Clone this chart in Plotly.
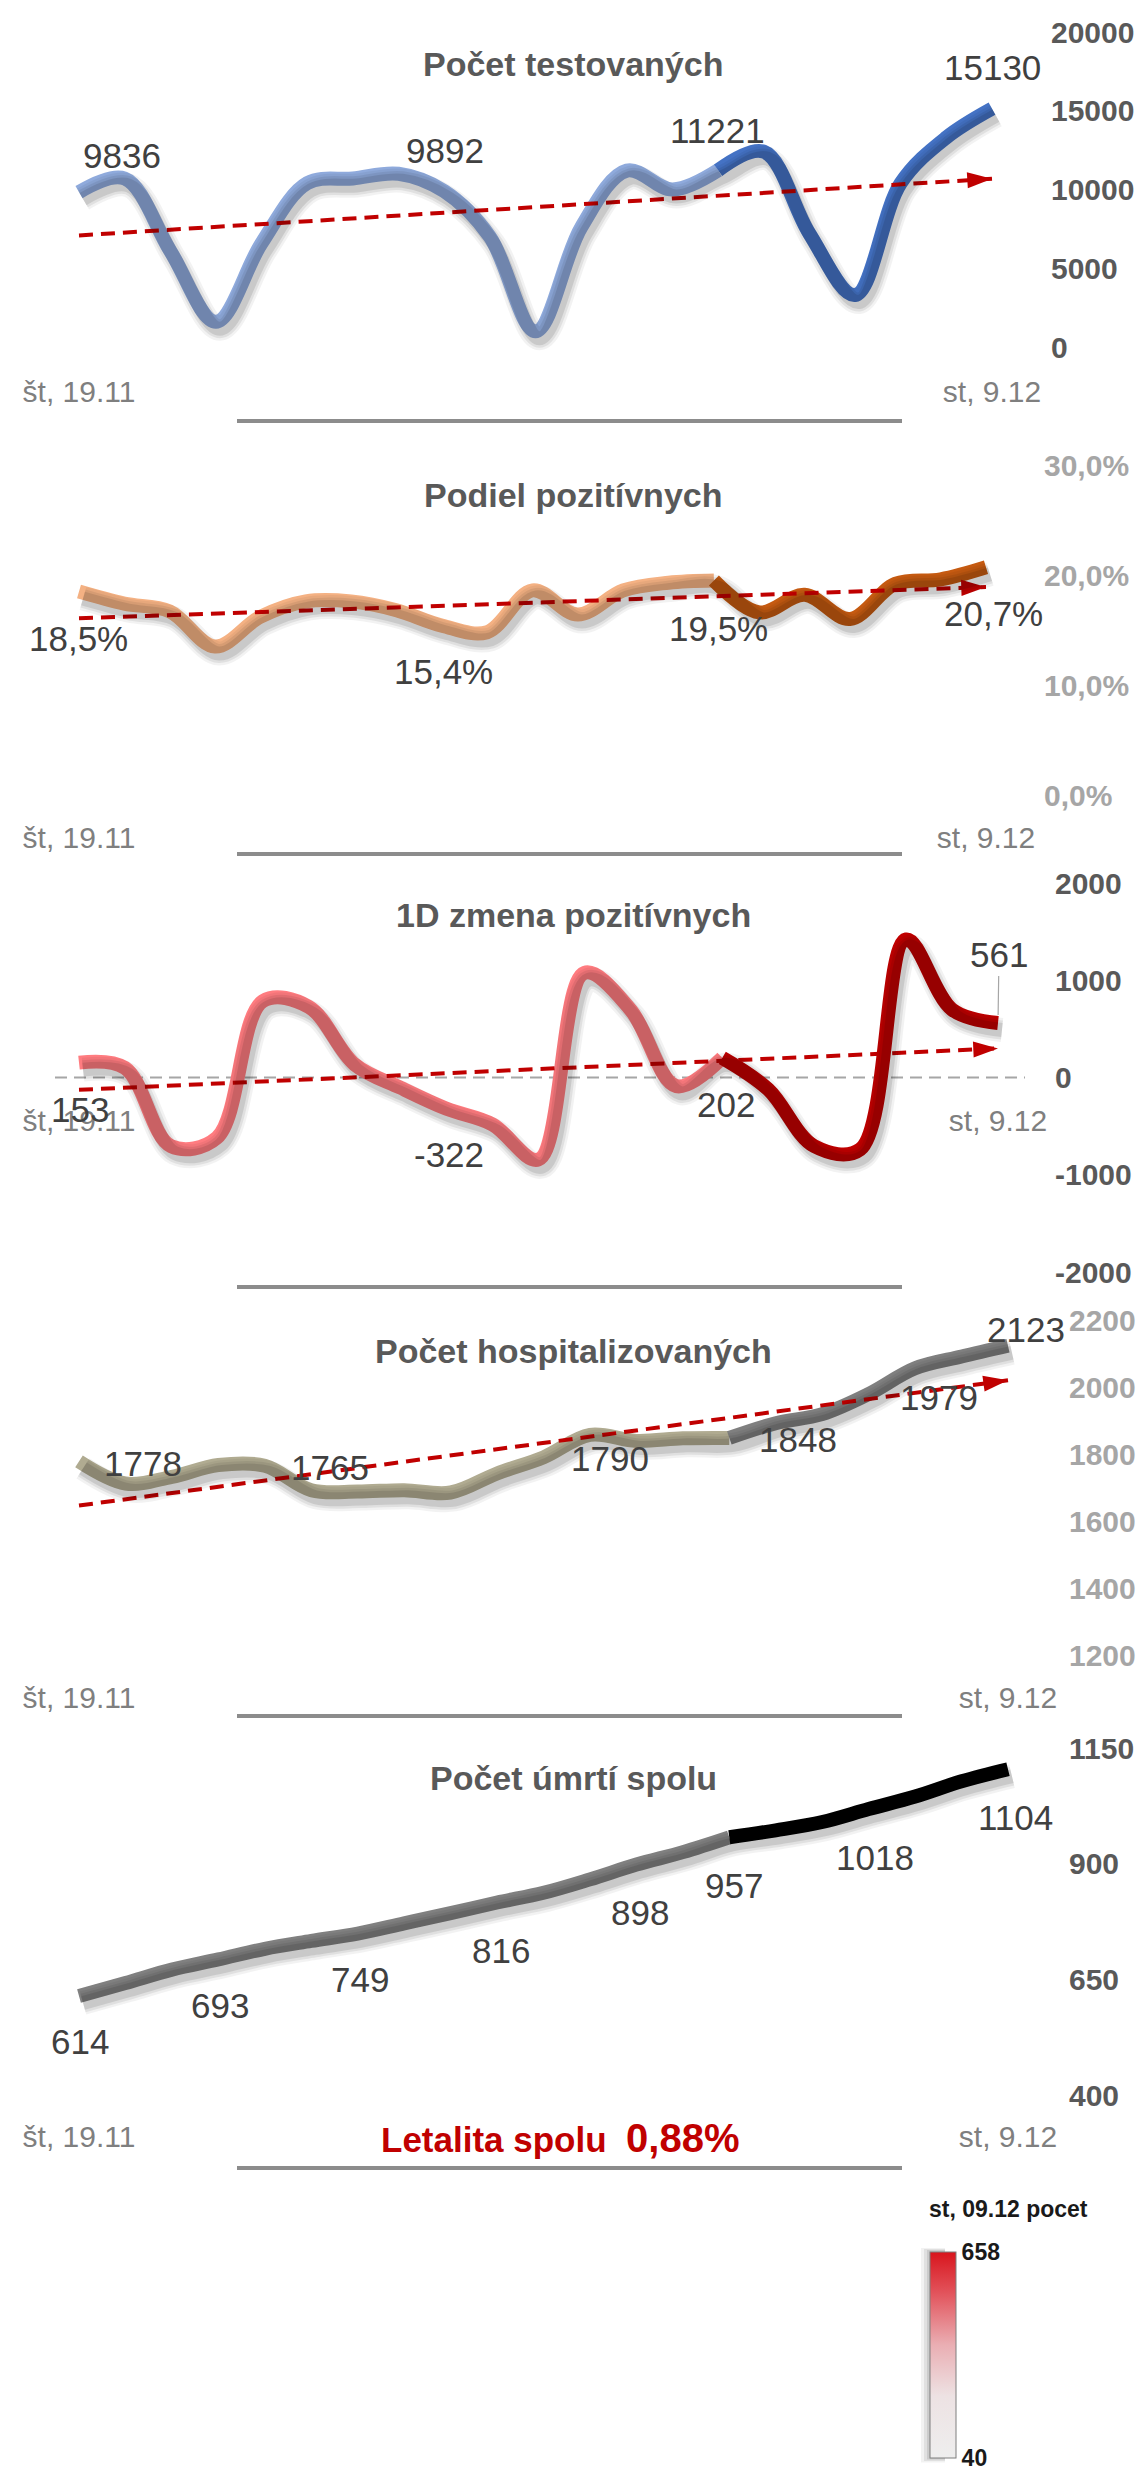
import numpy as np
import plotly.graph_objects as go

W, H = 1138, 2473

# ---------------- data ----------------
dates = ['19.11', '20.11', '21.11', '22.11', '23.11', '24.11', '25.11', '26.11', '27.11', '28.11',
         '29.11', '30.11', '01.12', '02.12', '03.12', '04.12', '05.12', '06.12', '07.12', '08.12', '09.12']
date_tick_text = ['št, 19.11', 'st, 9.12']

tested = [9836, 10700, 6100, 1600, 6600, 10400, 10700, 11000, 9892, 7000, 1000,
          7600, 11200, 10000, 11221, 12400, 7200, 3300, 10400, 13300, 15130]
positive_share = [18.5, 17.4, 16.7, 13.5, 16.2, 17.6, 17.6, 16.8, 15.4, 14.8, 18.6,
                  16.4, 18.6, 19.3, 19.5, 16.6, 18.2, 16.0, 19.2, 19.6, 20.7]
daily_change = [153, 99, -706, -620, 785, 727, 134, -106, -322, -483, -843,
                1076, 699, -89, 202, -123, -706, -740, 1419, 699, 561]
hospitalized = [1778, 1712, 1732, 1767, 1765, 1692, 1688, 1692, 1685, 1742, 1790,
                1857, 1839, 1847, 1848, 1892, 1919, 1979, 2056, 2091, 2123]
deaths_total = [614, 642, 671, 693, 716, 733, 749, 771, 793, 816, 837,
                866, 898, 925, 957, 972, 990, 1018, 1045, 1078, 1104]

split_index = 14  # last week highlighted with the darker colour

tested_ticks = [0, 5000, 10000, 15000, 20000]
share_ticks = [0, 10, 20, 30]
share_tick_text = ['0,0%', '10,0%', '20,0%', '30,0%']
change_ticks = [-2000, -1000, 0, 1000, 2000]
hosp_ticks = [1200, 1400, 1600, 1800, 2000, 2200]
deaths_ticks = [400, 650, 900, 1150]

tested_label_idx = [0, 8, 14, 20]
share_label_idx = [0, 8, 14, 20]
change_label_idx = [0, 8, 14, 20]
hosp_label_idx = [0, 4, 10, 14, 17, 20]
deaths_label_idx = [0, 3, 6, 9, 12, 14, 17, 20]

lethality_label = 'Letalita spolu'
lethality_value = '0,88%'
legend_title = 'st, 09.12 pocet'
legend_min, legend_max = 40, 658

# ---------------- styles ----------------
SANS = 'Liberation Sans, Arial, sans-serif'
X0 = 79          # pixel of first category
LEFT = 30        # plot area left edge (px)
SHX, SHY = 4, 7  # shadow offset (px)
LW = 14          # series line width

def fmt_int(v):
    return f'{int(round(v))}'

def fmt_pct(v):
    return f'{v:.1f}'.replace('.', ',') + '%'

panels = [
    dict(values=tested, title='Počet testovaných', light='#8faadc', dark='#4472c4',
         yrange=[0, 20000], yticks=tested_ticks, yticktext=[str(v) for v in tested_ticks],
         tickcolor='#595959', py=(347, 32), x20=992, right=1050, date_y=371, title_y=64,
         trend=True, labels=tested_label_idx, fmt=fmt_int,
         shifts=[(43, 37), (1, 41), (-1, 40), (0, 41)]),
    dict(values=positive_share, title='Podiel pozitívnych', light='#f4b183', dark='#c55a11',
         yrange=[0, 30], yticks=share_ticks, yticktext=share_tick_text,
         tickcolor='#a6a6a6', py=(795, 465), x20=986, right=1043, date_y=817, title_y=495,
         trend=True, labels=share_label_idx, fmt=fmt_pct,
         shifts=[(-1, -47), (2, -46), (5, -48), (7, -46)]),
    dict(values=daily_change, title='1D zmena pozitívnych', light='#ff7c80', dark='#c00000',
         yrange=[-2000, 2000], yticks=change_ticks, yticktext=[str(v) for v in change_ticks],
         tickcolor='#595959', py=(1272, 883), x20=998, right=1054, date_y=1100, title_y=915,
         trend=True, labels=change_label_idx, fmt=fmt_int,
         shifts=[(1, -47), (2, -46), (4, -47), ('arrow', 1, -68)]),
    dict(values=hospitalized, title='Počet hospitalizovaných', light='#b0ab91', dark='#7f7f7f',
         yrange=[1200, 2200], yticks=hosp_ticks, yticktext=[str(v) for v in hosp_ticks],
         tickcolor='#a6a6a6', py=(1655, 1320), x20=1008, right=1068, date_y=1677, title_y=1351,
         trend=True, labels=hosp_label_idx, fmt=fmt_int,
         shifts=[(64, -2), (65, -2), (66, -1), (69, -2), (70, -3), (18, 16)]),
    dict(values=deaths_total, title='Počet úmrtí spolu', light='#808080', dark='#000000',
         yrange=[400, 1150], yticks=deaths_ticks, yticktext=[str(v) for v in deaths_ticks],
         tickcolor='#595959', py=(2095, 1748), x20=1008, right=1068, date_y=2116, title_y=1778,
         trend=False, labels=deaths_label_idx, fmt=fmt_int,
         shifts=[(1, -46), (2, -46), (2, -46), (4, -48), (4, -48), (5, -48), (6, -48), (7, -48)]),
]

fig = go.Figure()
layout_axes = {}
annotations = []
shapes = []

def ax_name(kind, k):
    return kind if k == 1 else f'{kind}{k}'

n = len(dates)
idx = np.arange(n)

for k, p in enumerate(panels, start=1):
    vals = p['values']
    dx = (p['x20'] - X0) / (n - 1)
    xr = [(LEFT - X0) / dx, (p['right'] - X0) / dx]
    xdom = [LEFT / W, p['right'] / W]
    ydom = [1 - p['py'][0] / H, 1 - p['py'][1] / H]
    xa, ya = ax_name('x', k), ax_name('y', k)
    s = k + 5
    xs, ys = f'x{s}', f'y{s}'

    layout_axes[ax_name('xaxis', k)] = dict(
        domain=xdom, range=xr, type='category', categoryorder='array', categoryarray=dates,
        anchor='free', position=1 - p['date_y'] / H, tickmode='array',
        tickvals=[dates[0], dates[-1]], ticktext=date_tick_text, automargin=False,
        showgrid=False, zeroline=False, showline=False, ticks='',
        tickfont=dict(family=SANS, size=30, color='#7f7f7f'), fixedrange=True)
    layout_axes[ax_name('yaxis', k)] = dict(
        domain=ydom, range=p['yrange'], side='right', anchor=xa, tickmode='array',
        tickvals=p['yticks'], ticktext=p['yticktext'], showgrid=False, zeroline=False,
        showline=False, ticks='', fixedrange=True, automargin=False,
        tickfont=dict(family=SANS, size=30, color=p['tickcolor'], weight='bold'))
    layout_axes[f'xaxis{s}'] = dict(
        domain=[xdom[0] + SHX / W, xdom[1] + SHX / W], range=xr, type='category',
        categoryorder='array', categoryarray=dates, anchor=ys, visible=False, fixedrange=True)
    layout_axes[f'yaxis{s}'] = dict(
        domain=[ydom[0] - SHY / H, ydom[1] - SHY / H], range=p['yrange'], anchor=xs,
        visible=False, fixedrange=True)

    # soft shadow
    for w_, a_ in [(24, 0.05), (19, 0.07), (14, 0.10)]:
        fig.add_trace(go.Scatter(x=dates, y=vals, mode='lines', xaxis=xs, yaxis=ys,
                                 line=dict(color=f'rgba(0,0,0,{a_})', width=w_, shape='spline'),
                                 hoverinfo='skip', showlegend=False))
    # light and dark segments
    fig.add_trace(go.Scatter(x=dates[:split_index + 1], y=vals[:split_index + 1], mode='lines',
                             xaxis=xa, yaxis=ya, showlegend=False,
                             line=dict(color=p['light'], width=LW, shape='spline')))
    fig.add_trace(go.Scatter(x=dates[split_index:], y=vals[split_index:], mode='lines',
                             xaxis=xa, yaxis=ya, showlegend=False,
                             line=dict(color=p['dark'], width=LW, shape='spline')))
    # linear trend with arrow head
    if p['trend']:
        coef = np.polyfit(idx, np.array(vals, dtype=float), 1)
        trend = np.polyval(coef, idx)
        fig.add_trace(go.Scatter(x=dates, y=trend, mode='lines', xaxis=xa, yaxis=ya,
                                 line=dict(color='#c00000', width=4, dash='14px,8px'),
                                 hoverinfo='skip', showlegend=False))
        fig.add_trace(go.Scatter(x=dates[-2:], y=trend[-2:], mode='markers', xaxis=xa, yaxis=ya,
                                 marker=dict(symbol='arrow', size=[0, 26], opacity=[0, 1],
                                             angleref='previous', color='#c00000',
                                             line=dict(width=0)),
                                 hoverinfo='skip', showlegend=False))

    # title
    annotations.append(dict(x=573 / W, y=1 - p['title_y'] / H, xref='paper', yref='paper',
                            text=f"<b>{p['title']}</b>", showarrow=False, xanchor='center',
                            yanchor='middle',
                            font=dict(family=SANS, size=34, color='#595959')))
    # data labels (x given as category index)
    lab_font = dict(family=SANS, size=35, color='#404040')
    for i, sh in zip(p['labels'], p['shifts']):
        if sh[0] == 'arrow':
            annotations.append(dict(x=int(i), y=vals[i], xref=xa, yref=ya, text=p['fmt'](vals[i]),
                                    showarrow=True, arrowhead=0, arrowwidth=1.2,
                                    arrowcolor='#a6a6a6', ax=sh[1], ay=sh[2], standoff=8,
                                    font=lab_font))
        else:
            annotations.append(dict(x=int(i), y=vals[i], xref=xa, yref=ya, text=p['fmt'](vals[i]),
                                    showarrow=False, xshift=sh[0], yshift=sh[1], font=lab_font))

# zero line of the 1D change panel
shapes.append(dict(type='line', xref='paper', yref='y3', x0=55 / W, x1=1025 / W, y0=0, y1=0,
                   line=dict(color='#a6a6a6', width=2, dash='12px,7px'), layer='below'))
# separators
for py in [421, 854, 1287, 1716, 2168]:
    shapes.append(dict(type='line', xref='paper', yref='paper', x0=237 / W, x1=902 / W,
                       y0=1 - py / H, y1=1 - py / H, line=dict(color='#8c8c8c', width=4)))

# soft shadow on the left of the colour bar
for off, a_ in [(9, 0.05), (6, 0.07), (3, 0.09)]:
    shapes.append(dict(type='rect', xref='paper', yref='paper', x0=(930 - off) / W, x1=945 / W,
                       y0=1 - (2458 + off / 2) / H, y1=1 - (2251 - off / 3) / H,
                       fillcolor=f'rgba(0,0,0,{a_})', line=dict(width=0), layer='below'))

# lethality
annotations.append(dict(x=560 / W, y=1 - 2138 / H, xref='paper', yref='paper', showarrow=False,
                        xanchor='center', yanchor='middle',
                        text=f"<b>{lethality_label}&nbsp;&nbsp;<span style='font-size:40px'>{lethality_value}</span></b>",
                        font=dict(family=SANS, size=35, color='#c00000')))
# legend title
annotations.append(dict(x=1008 / W, y=1 - 2209 / H, xref='paper', yref='paper', showarrow=False,
                        xanchor='center', yanchor='middle', text=f'<b>{legend_title}</b>',
                        font=dict(family=SANS, size=23, color='#1a1a1a')))

# colour legend (colour bar)
fig.add_trace(go.Scatter(
    x=[None, None], y=[None, None], mode='markers', xaxis='x5', yaxis='y5', showlegend=False,
    hoverinfo='skip',
    marker=dict(color=[legend_min, legend_max], cmin=legend_min, cmax=legend_max,
                colorscale=[[0, '#eeeeee'], [0.3, '#ede2e3'], [0.55, '#eaaeb3'],
                            [0.8, '#e2545c'], [1, '#d8151d']],
                showscale=True,
                colorbar=dict(x=930 / W, xanchor='left', y=1 - 2458 / H, yanchor='bottom',
                              len=206, lenmode='pixels', thickness=26, thicknessmode='pixels',
                              outlinewidth=1, outlinecolor='#7f7f7f', borderwidth=0,
                              xpad=0, ypad=0, ticks='', tickmode='array',
                              tickvals=[legend_min, legend_max],
                              ticktext=[str(legend_min), str(legend_max)],
                              ticklabeloverflow='allow',
                              tickfont=dict(family=SANS, size=23, color='#1a1a1a', weight='bold'),
                              bgcolor='rgba(0,0,0,0)'))))

fig.update_layout(template='none', width=W, height=H, autosize=False,
                  margin=dict(l=0, r=0, t=0, b=0, pad=0, autoexpand=False),
                  paper_bgcolor='white', plot_bgcolor='rgba(0,0,0,0)', showlegend=False,
                  annotations=annotations, shapes=shapes, **layout_axes)

fig.write_html('out.html', config={'displayModeBar': False},
               post_script="document.body.style.margin='0px';")
